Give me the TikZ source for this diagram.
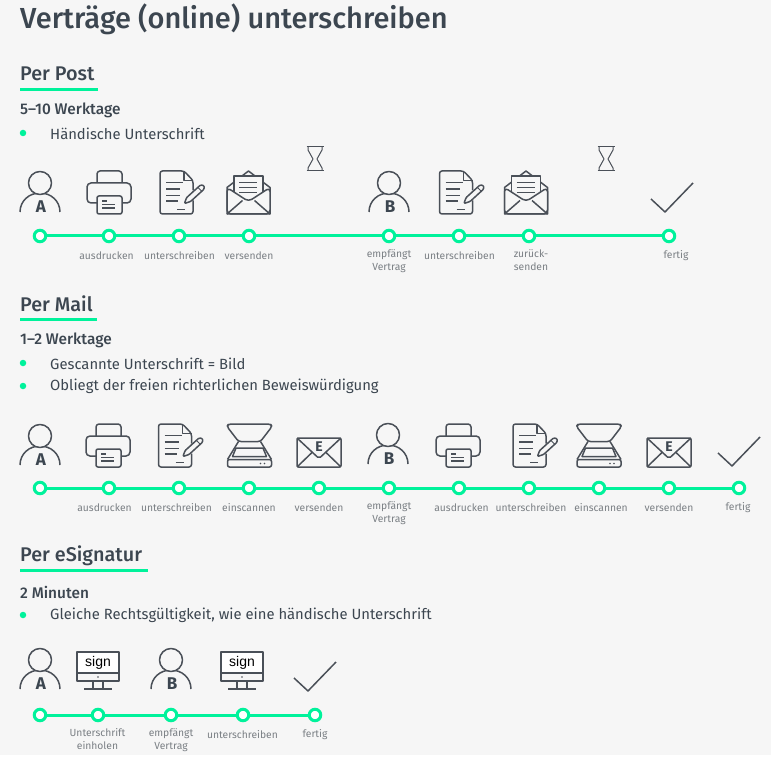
\documentclass[tikz,border=0pt]{standalone}
\usepackage{fontspec}
\setmainfont{Fira Sans}
\newfontfamily\medfont{Fira Sans Medium}
\newfontfamily\signfont{Liberation Sans}
\definecolor{pagebg}{HTML}{F6F6F6}
\definecolor{mint}{HTML}{00F29B}
\definecolor{ink}{HTML}{3C4650}
\definecolor{icon}{HTML}{4A5058}
\definecolor{caption}{HTML}{7A7F84}
\tikzset{
  x=1pt,y=-1pt,
  ttl/.style={anchor=west,inner sep=0pt,text=ink,font=\medfont\fontsize{29}{30}\selectfont},
  hd/.style={anchor=west,inner sep=0pt,text=ink,font=\medfont\fontsize{19.8}{22}\selectfont},
  sub/.style={anchor=west,inner sep=0pt,text=ink,font=\medfont\fontsize{15.4}{16}\selectfont},
  body/.style={anchor=west,inner sep=0pt,text=ink,font=\fontsize{14.8}{16}\selectfont},
  bul/.style={circle,fill=mint,inner sep=0pt,minimum size=6.5pt},
  rule/.style={draw=mint,line width=2.6pt},
  tl/.style={draw=mint,line width=3pt},
  dot/.style={circle,draw=mint,fill=white,line width=3pt,inner sep=0pt,minimum size=11.5pt},
  lbl/.style={inner sep=0pt,text=caption,align=center,font=\fontsize{10.3}{13}\selectfont},
  ic/.style={draw=icon,line width=1.5pt,line join=round},
  pics/person/.style={code={
    \draw[ic] (-20,29) .. controls (-20,18) and (-11,10) .. (0,10) .. controls (11,10) and (20,18) .. (20,29);
    \draw[ic,fill=pagebg] (0,0) circle (11.5);
    \node[inner sep=0pt,text=ink,font=\bfseries\fontsize{17}{17}\selectfont] (-ltr) at (1,24) {#1};
  }},
  pics/printer/.style={code={
    \draw[ic,rounded corners=4] (-22,-9.5) rectangle (22,10.5);
    \draw[ic,rounded corners=3] (-12,-9.5) -- (-12,-21.5) -- (13,-21.5) -- (13,-9.5);
    \draw[ic,fill=pagebg,rounded corners=2] (-12,3.5) rectangle (13,21.5);
    \draw[ic,line width=1.2pt] (-7,8.5) -- (-2,8.5) (-7,12) -- (6,12) (-7,15.5) -- (6,15.5);
  }},
  pics/docpen/.style={code={
    \draw[ic,rounded corners=2.5] (16,-2) -- (16,-12) -- (7,-21.5) -- (-17,-21.5) -- (-17,21.5) -- (16,21.5) -- (16,8);
    \draw[ic] (7,-21.5) -- (7,-12) -- (16,-12);
    \draw[ic,line width=1.2pt] (-11,-10) -- (6,-10) (-11,-3.5) -- (3,-3.5) (-11,3) -- (3,3) (-11,8.5) -- (1,8.5) (0,17) -- (8,17);
    \draw[ic,fill=pagebg,rounded corners=1] (7.5,11) -- (13.6,9) -- (27.2,-3.5) -- (27,-7) -- (23.5,-7.5) -- (9.5,5.2) -- cycle;
    \draw[ic,line width=1pt] (21,-5) -- (25,-1);
  }},
  pics/openmail/.style={code={
    \draw[ic] (-21.5,-5) -- (-21.5,21.5) -- (21.5,21.5) -- (21.5,-5) -- (0,-21.5) -- cycle;
    \draw[ic,fill=pagebg] (-14.5,8) -- (-14.5,-16.5) -- (14.5,-16.5) -- (14.5,8);
    \draw[ic,fill=pagebg,rounded corners=4] (-21.5,-5) -- (0,9) -- (21.5,-5) -- (21.5,21.5) -- (-21.5,21.5) -- cycle;
    \draw[ic] (-21.5,21.5) -- (-6,8) (21.5,21.5) -- (6,8);
    \draw[ic] (-9.5,-10) -- (8.5,-10) (-9.5,-5) -- (8.5,-5) (-9.5,0) -- (8.5,0);
  }},
  pics/hourglass/.style={code={
    \draw[ic,line width=1pt] (-8.5,-12) -- (8.5,-12) (-8.5,12) -- (8.5,12);
    \draw[ic,line width=1pt] (-7,-12) -- (-7,-9) -- (-2,0) -- (-7,9) -- (-7,12) (7,-12) -- (7,-9) -- (2,0) -- (7,9) -- (7,12);
  }},
  pics/tick/.style={code={
    \draw[ic] (-21,2) -- (-7,15) -- (21,-14);
  }},
  pics/scanner/.style={code={
    \draw[ic,rounded corners=2.5] (-11,-4) -- (-22.5,-19) -- (-21,-21.5) -- (21,-21.5) -- (22.5,-19) -- (11,-4) -- cycle;
    \draw[ic] (-11,-4) -- (-22,14) (11,-4) -- (22,14);
    \draw[ic] (-13.5,2.5) -- (13.5,2.5) -- (17,11) -- (-17,11) -- cycle;
    \draw[ic,rounded corners=2] (-22,14) rectangle (22,21.5);
    \fill[icon] (11,18) circle (.8) (15,18) circle (.8);
  }},
  pics/closedmail/.style={code={
    \draw[ic,rounded corners=1.5] (-22,-14.5) rectangle (22,14.5);
    \draw[ic,rounded corners=2] (-22,-14.5) -- (0,6) -- (22,-14.5);
    \draw[ic] (-22,14.5) -- (-7,0) (22,14.5) -- (7,0);
    \node[inner sep=0pt,text=ink,font=\bfseries\fontsize{14}{14}\selectfont] (-ltr) at (0,-6) {E};
  }},
  pics/monitor/.style={code={
    \draw[ic,fill=white] (-21,0) rectangle (21,21);
    \draw[ic] (-21,21) -- (-21,29) -- (21,29) -- (21,21);
    \draw[ic] (-5,29) -- (-5,37) (5,29) -- (5,37) (-14,37) -- (14,37);
    \fill[icon] (0,25) circle (.8);
    \node[inner sep=0pt,text=black,font=\signfont\fontsize{14}{14}\selectfont] (-txt) at (0,11) {sign};
  }},
}
\begin{document}
\begin{tikzpicture}
\useasboundingbox (0,0) rectangle (771,759);
\fill[white] (0,0) rectangle (771,759);
\fill[pagebg] (0,0) rectangle (771,755);

\node[ttl] (title) at (20,19) {Verträge (online) unterschreiben};

% ---- Per Post
\node[hd] (h1) at (20,74) {Per Post};
\coordinate (h1a) at (20,89.5); \coordinate (h1b) at (98,89.5);
\draw[rule] (h1a) -- (h1b);
\node[sub] (s1) at (20,110.5) {5–10 Werktage};
\node[bul] (b1) at (23,133) {};
\node[body] (t1) at (50,133.5) {Händische Unterschrift};

\pic (a1) at (40,183) {person=A};
\pic at (109,192.5) {printer};
\pic at (177,192.5) {docpen};
\pic at (248.5,192.5) {openmail};
\pic at (315,159) {hourglass};
\pic (a2) at (389,183) {person=B};
\pic at (456.5,192.5) {docpen};
\pic at (526,192.5) {openmail};
\pic at (606,159) {hourglass};
\pic at (672,197) {tick};

\node[dot] (p1) at (40,236) {};
\node[dot] (p2) at (109,236) {};
\node[dot] (p3) at (179,236) {};
\node[dot] (p4) at (249,236) {};
\node[dot] (p5) at (389,236) {};
\node[dot] (p6) at (459,236) {};
\node[dot] (p7) at (529,236) {};
\node[dot] (p8) at (669,236) {};
\draw[tl] (p1) -- (p2);
\draw[tl] (p2) -- (p3);
\draw[tl] (p3) -- (p4);
\draw[tl] (p4) -- (p5);
\draw[tl] (p5) -- (p6);
\draw[tl] (p6) -- (p7);
\draw[tl] (p7) -- (p8);

\node[lbl] (pl2) at (106.5,255.5) {ausdrucken};
\node[lbl] (pl3) at (179.5,255.5) {unterschreiben};
\node[lbl] (pl4) at (249,255.5) {versenden};
\node[lbl,anchor=north] (pl5) at (389,249.5) {empfängt\\Vertrag};
\node[lbl] (pl6) at (459.5,255.5) {unterschreiben};
\node[lbl,anchor=north,align=left] (pl7) at (531,249.5) {zurück-\\senden};
\node[lbl] (pl8) at (676,255.5) {fertig};

% ---- Per Mail
\node[hd] (h2) at (20,303.5) {Per Mail};
\coordinate (h2a) at (20,319.5); \coordinate (h2b) at (97,319.5);
\draw[rule] (h2a) -- (h2b);
\node[sub] (s2) at (20,340.5) {1–2 Werktage};
\node[bul] (b2) at (23,363) {};
\node[body] (t2) at (50,363.5) {Gescannte Unterschrift = Bild};
\node[bul] (b3) at (23,386) {};
\node[body] (t3) at (50,386.5) {Obliegt der freien richterlichen Beweiswürdigung};

\pic (m1) at (40,436) {person=A};
\pic at (108,445.5) {printer};
\pic at (175.5,445.5) {docpen};
\pic at (249.5,445.5) {scanner};
\pic at (319,452.5) {closedmail};
\pic (m2) at (388,435) {person=B};
\pic at (458,445.5) {printer};
\pic at (530,445.5) {docpen};
\pic at (599,445.5) {scanner};
\pic at (669,452.5) {closedmail};
\pic at (739,451) {tick};

\node[dot] (q1) at (40,488) {};
\node[dot] (q2) at (109,488) {};
\node[dot] (q3) at (179,488) {};
\node[dot] (q4) at (249,488) {};
\node[dot] (q5) at (319,488) {};
\node[dot] (q6) at (389,488) {};
\node[dot] (q7) at (459,488) {};
\node[dot] (q8) at (529,488) {};
\node[dot] (q9) at (599,488) {};
\node[dot] (q10) at (669,488) {};
\node[dot] (q11) at (739,488) {};
\draw[tl] (q1) -- (q2);
\draw[tl] (q2) -- (q3);
\draw[tl] (q3) -- (q4);
\draw[tl] (q4) -- (q5);
\draw[tl] (q5) -- (q6);
\draw[tl] (q6) -- (q7);
\draw[tl] (q7) -- (q8);
\draw[tl] (q8) -- (q9);
\draw[tl] (q9) -- (q10);
\draw[tl] (q10) -- (q11);

\node[lbl] (ql2) at (104.5,507.5) {ausdrucken};
\node[lbl] (ql3) at (176.5,507.5) {unterschreiben};
\node[lbl] (ql4) at (249,507.5) {einscannen};
\node[lbl] (ql5) at (319,507.5) {versenden};
\node[lbl,anchor=north] (ql6) at (389,501.5) {empfängt\\Vertrag};
\node[lbl] (ql7) at (461.5,507.5) {ausdrucken};
\node[lbl] (ql8) at (531,507.5) {unterschreiben};
\node[lbl] (ql9) at (601,507.5) {einscannen};
\node[lbl] (ql10) at (669,507.5) {versenden};
\node[lbl] (ql11) at (738,507.5) {fertig};

% ---- Per eSignatur
\node[hd] (h3) at (20,555.5) {Per eSignatur};
\coordinate (h3a) at (20,570.5); \coordinate (h3b) at (148,570.5);
\draw[rule] (h3a) -- (h3b);
\node[sub] (s3) at (20,592.5) {2 Minuten};
\node[bul] (b4) at (23,615) {};
\node[body] (t4) at (50,615.5) {Gleiche Rechtsgültigkeit, wie eine händische Unterschrift};

\pic (e1) at (40,660) {person=A};
\pic (sc1) at (98,652) {monitor};
\pic (e2) at (171,660) {person=B};
\pic (sc2) at (242,652) {monitor};
\pic at (315,676) {tick};

\node[dot] (r1) at (40,715) {};
\node[dot] (r2) at (98,715) {};
\node[dot] (r3) at (171,715) {};
\node[dot] (r4) at (243,715) {};
\node[dot] (r5) at (315,715) {};
\draw[tl] (r1) -- (r2);
\draw[tl] (r2) -- (r3);
\draw[tl] (r3) -- (r4);
\draw[tl] (r4) -- (r5);

\node[lbl,anchor=north] (rl2) at (97.5,728.5) {Unterschrift\\einholen};
\node[lbl,anchor=north] (rl3) at (171,728.5) {empfängt\\Vertrag};
\node[lbl] (rl4) at (242.5,734.5) {unterschreiben};
\node[lbl] (rl5) at (315,734.5) {fertig};
\end{tikzpicture}
\end{document}
